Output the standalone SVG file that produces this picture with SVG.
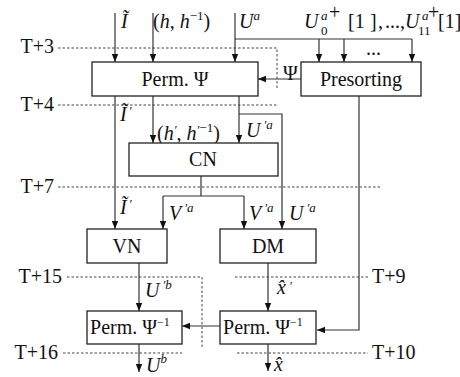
<svg xmlns="http://www.w3.org/2000/svg" width="460" height="377" viewBox="0 0 460 377">
<defs>
<marker id="ah" markerUnits="userSpaceOnUse" markerWidth="8" markerHeight="11" refX="10" refY="4" orient="auto" viewBox="0 0 10 8">
<path d="M0,0 L10,4 L0,8 Z" fill="#111"/>
</marker>
<style>
.box{fill:#fff;stroke:#222;stroke-width:1.3}
.bt{font-family:"Liberation Serif","Times New Roman",serif;font-size:20px;fill:#111;text-anchor:middle}
.ln{fill:none;stroke:#333;stroke-width:1.2}
.ar{fill:none;stroke:#333;stroke-width:1.2;marker-end:url(#ah)}
.dt{fill:none;stroke:#444;stroke-width:1;stroke-dasharray:2.5,2}
.tl{font-family:"Liberation Serif","Times New Roman",serif;font-size:20px;fill:#111}
.m{font-family:"Liberation Serif","Times New Roman",serif;font-size:20px;font-style:italic;fill:#111}
.s{font-size:13px}
.n{font-style:normal}
</style>
</defs>

<g id="timing">
<path class="dt" d="M58,48 H277 V88"/>
<path class="dt" d="M58,105 H277"/>
<path class="dt" d="M58,187 H382"/>
<path class="dt" d="M67,277 H202 V349"/>
<path class="dt" d="M235,277 H368"/>
<path class="dt" d="M63,353 H182"/>
<path class="dt" d="M237,353 H368"/>
<text class="tl" x="54" y="53" text-anchor="end">T+3</text>
<text class="tl" x="54" y="111" text-anchor="end">T+4</text>
<text class="tl" x="54" y="193" text-anchor="end">T+7</text>
<text class="tl" x="62" y="283" text-anchor="end">T+15</text>
<text class="tl" x="58" y="359" text-anchor="end">T+16</text>
<text class="tl" x="372" y="283">T+9</text>
<text class="tl" x="372" y="359">T+10</text>
</g>

<g id="connectors">
<path class="ar" d="M115,13 V62"/>
<path class="ar" d="M153,13 V62"/>
<path class="ar" d="M235,13 V62"/>
<path class="ln" d="M235,39 H412"/>
<path class="ar" d="M319,39 V62"/>
<path class="ar" d="M344,39 V62"/>
<path class="ar" d="M412,39 V62"/>
<path class="ar" d="M301,79 H258"/>
<path class="ar" d="M115,96 V229"/>
<path class="ar" d="M153,96 V143"/>
<path class="ar" d="M239,96 V143"/>
<path class="ar" d="M239,114 H282 V229"/>
<path class="ln" d="M201,176 V196 M163,196 H244"/>
<path class="ar" d="M163,196 V229"/>
<path class="ar" d="M244,196 V229"/>
<path class="ar" d="M139,263 V311"/>
<path class="ar" d="M268,263 V311"/>
<path class="ar" d="M359,96 V330 H317"/>
<path class="ar" d="M220,326 H182"/>
<path class="ar" d="M139,344 V372"/>
<path class="ar" d="M268,344 V371"/>
</g>

<g id="labels">
<text class="m" x="121" y="28">Ĩ</text>
<text class="m" x="153" y="28"><tspan class="n">(</tspan>h<tspan class="n">, </tspan>h<tspan class="s n" dy="-8">−1</tspan><tspan class="n" dy="8">)</tspan></text>
<text class="m" x="239" y="28">U<tspan class="s" dy="-8">a</tspan></text>
<text class="m" x="304" y="28">U</text>
<text class="m s" x="321" y="20">a</text>
<text class="tl s" x="321" y="35">0</text>
<text class="tl" x="329" y="19" font-size="15">+</text>
<text class="tl" x="348" y="28">[1</text>
<text class="tl" x="370" y="28">]</text>
<text class="tl" x="378" y="28">,</text>
<text class="tl" x="385" y="28">...</text>
<text class="tl" x="400" y="28">,</text>
<text class="m" x="405" y="28">U</text>
<text class="m s" x="422" y="20">a</text>
<text class="tl s" x="418" y="35">11</text>
<text class="tl" x="428" y="19" font-size="15">+</text>
<text class="tl" x="438" y="28" font-size="18">[1]</text>
<text class="tl" x="366" y="55" font-size="16">...</text>
<text class="tl" x="283" y="80">Ψ</text>
<text class="m" x="120" y="121">Ĩ<tspan class="s" dx="2" dy="-6">′</tspan></text>
<text class="m" x="157" y="140"><tspan class="n">(</tspan>h<tspan class="s" dy="-6">′</tspan><tspan class="n" dy="6">, </tspan>h<tspan class="s" dy="-6">′</tspan><tspan class="s n" dy="-2">−1</tspan><tspan class="n" dy="8">)</tspan></text>
<text class="m" x="246" y="137">U<tspan class="s" dx="3" dy="-8">′a</tspan></text>
<text class="m" x="120" y="214">Ĩ<tspan class="s" dx="2" dy="-6">′</tspan></text>
<text class="m" x="169" y="220">V<tspan class="s" dx="3" dy="-8">′a</tspan></text>
<text class="m" x="249" y="220">V<tspan class="s" dx="3" dy="-8">′a</tspan></text>
<text class="m" x="289" y="220">U<tspan class="s" dx="3" dy="-8">′a</tspan></text>
<text class="m" x="145" y="297">U<tspan class="s" dx="3" dy="-8">′b</tspan></text>
<text class="m" x="277" y="294">x̂<tspan class="s" dx="3" dy="-4">′</tspan></text>
<text class="m" x="146" y="372">U<tspan class="s" dy="-9">b</tspan></text>
<text class="m" x="274" y="371">x̂</text>
</g>

<g id="perm">
<rect class="box" x="92" y="62" width="166" height="34"/>
<text class="bt" x="175" y="86">Perm. Ψ</text>
</g>
<g id="presorting">
<rect class="box" x="301" y="62" width="120" height="34"/>
<text class="bt" x="361" y="86">Presorting</text>
</g>
<g id="cn">
<rect class="box" x="129" y="143" width="149" height="33"/>
<text class="bt" x="203" y="166">CN</text>
</g>
<g id="vn">
<rect class="box" x="87" y="229" width="80" height="34"/>
<text class="bt" x="127" y="253">VN</text>
</g>
<g id="dm">
<rect class="box" x="220" y="229" width="96" height="34"/>
<text class="bt" x="268" y="253">DM</text>
</g>
<g id="perminv1">
<rect class="box" x="87" y="311" width="95" height="33"/>
<text class="bt" x="130" y="334">Perm. Ψ<tspan font-size="12" dy="-8">−1</tspan></text>
</g>
<g id="perminv2">
<rect class="box" x="220" y="311" width="96" height="33"/>
<text class="bt" x="263" y="334">Perm. Ψ<tspan font-size="12" dy="-8">−1</tspan></text>
</g>
</svg>
